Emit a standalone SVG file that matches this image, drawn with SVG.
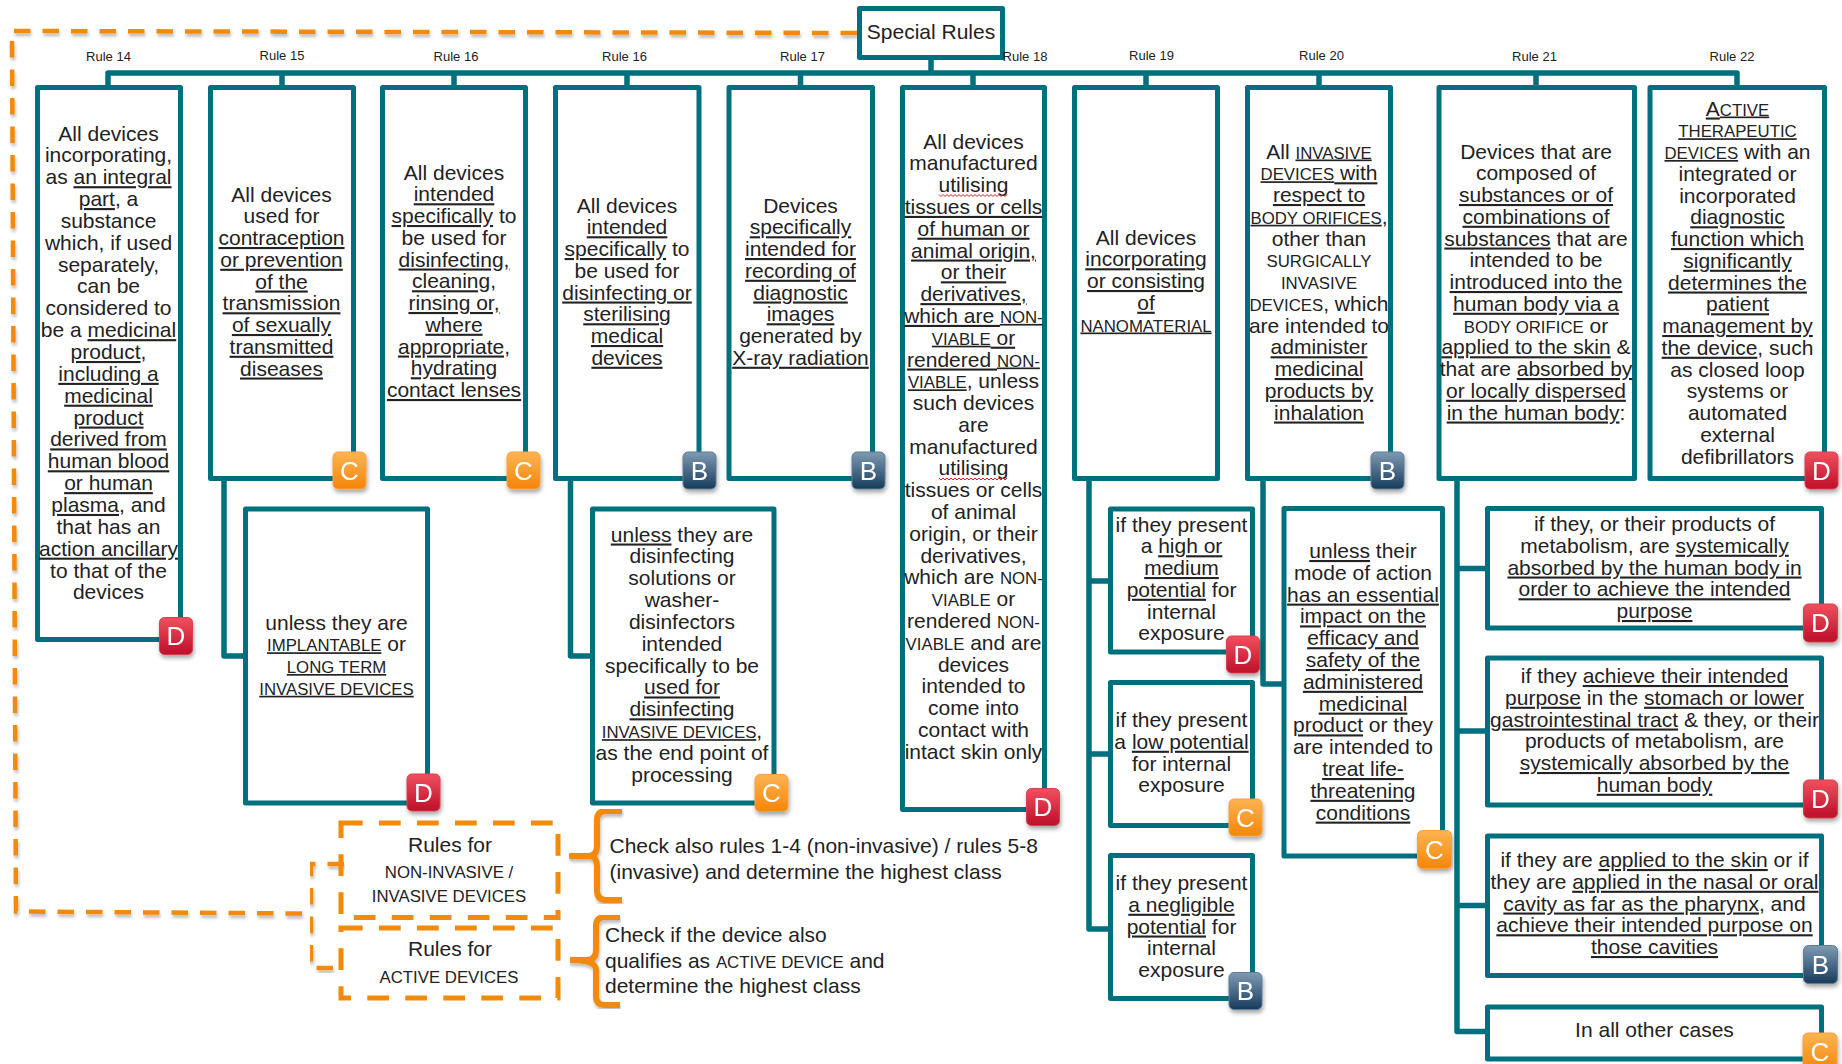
<svg xmlns="http://www.w3.org/2000/svg" width="1842" height="1064" viewBox="0 0 1842 1064">
<style>
text{font-family:"Liberation Sans",Arial,sans-serif;fill:#222}
.t{font-size:21px;text-anchor:middle}
.l{font-size:21px}
.r{font-size:13px;text-anchor:middle}
.s{font-size:16.8px}
.u{text-decoration:underline}
.w{fill:none;stroke:#d22;stroke-width:1}
.box{fill:#fff;stroke:#00707f;stroke-width:5;stroke-linejoin:round}
.bus{fill:none;stroke:#00707f;stroke-width:5.500;stroke-linejoin:round}
.dash{fill:none;stroke:#f28a0a;stroke-width:4.500;stroke-dasharray:16.500 12}
.dbox{fill:none;stroke:#f28a0a;stroke-width:5;stroke-dasharray:21.700 16.300}
.br{fill:none;stroke:#f28a0a;stroke-width:6;stroke-linejoin:round}
.b{filter:url(#sh)}
.bl{font-size:26px;text-anchor:middle;fill:#fff}
.bC{fill:url(#gC);stroke:#f6a040}
.bD{fill:url(#gD);stroke:#d8404f}
.bB{fill:url(#gB);stroke:#5d7d96}
</style>
<defs>
<linearGradient id="gC" x1="0" y1="0" x2="0" y2="1"><stop offset="0" stop-color="#fdb452"/><stop offset="1" stop-color="#f4860a"/></linearGradient>
<linearGradient id="gD" x1="0" y1="0" x2="0" y2="1"><stop offset="0" stop-color="#f0505f"/><stop offset="1" stop-color="#bd0f2a"/></linearGradient>
<linearGradient id="gB" x1="0" y1="0" x2="0" y2="1"><stop offset="0" stop-color="#7f9ab2"/><stop offset="1" stop-color="#173c5c"/></linearGradient>
<filter id="sh" x="-30%" y="-30%" width="170%" height="170%"><feDropShadow dx="1" dy="3" stdDeviation="2" flood-color="#000" flood-opacity=".35"/></filter>
<filter id="sl" x="-2%" y="-2%" width="104%" height="106%"><feDropShadow dx="1" dy="3" stdDeviation="1.600" flood-color="#000" flood-opacity=".25"/></filter>
<path id="zig" class="w" d="M0 0l2 2 2-2 2 2 2-2 2 2 2-2 2 2 2-2 2 2 2-2 2 2 2-2 2 2 2-2 2 2 2-2 2 2 2-2 2 2 2-2 2 2 2-2 2 2 2-2 2 2 2-2 2 2 2-2 2 2 2-2 2 2 2-2 2 2 2-2"/>
</defs>

<g id="connectors">
<path class="bus" d="M931 60V73M108 87V73H1737V87M282 73V87M454 73V87M627 73V87M800.500 73V87M973 73V87M1146 73V87M1319 73V87M1536 73V87"/>
<path class="bus" d="M224 481V656H243M570.500 481V656H590M1089 481V929H1108M1089 581H1108M1089 754H1108M1263 481V684H1282M1457 481V1031.500H1485M1457 568.500H1485M1457 731H1485M1457 905.500H1485"/>
<path class="dash" filter="url(#sl)" d="M857 33L12 31L16 911.500L302 913.500"/>
<path class="dash" filter="url(#sl)" d="M344 864H311V968H344"/>
<path class="br" filter="url(#sl)" d="M622 811H606Q597 811 597 820V846Q597 856 588 856H571Q588 856 590 856Q597 857 597 866V890Q597 900 606 900H622"/>
<path class="br" filter="url(#sl)" d="M620 917H605Q596 917 596 926V950Q596 960 587 960H571Q596 960 596 970V996Q596 1005 605 1005H620"/>
</g>

<g id="root"><rect class="box" x="859.500" y="8.500" width="143" height="49"/><text class="t" x="931" y="39">Special Rules</text></g>

<g id="rule14-label"><text class="r" x="108.500" y="60.500">Rule 14</text></g>
<g id="rule15-label"><text class="r" x="282" y="59.500">Rule 15</text></g>
<g id="rule16-label"><text class="r" x="456" y="60.500">Rule 16</text></g>
<g id="rule16b-label"><text class="r" x="624.500" y="60.500">Rule 16</text></g>
<g id="rule17-label"><text class="r" x="802.500" y="60.500">Rule 17</text></g>
<g id="rule18-label"><text class="r" x="1025" y="60.500">Rule 18</text></g>
<g id="rule19-label"><text class="r" x="1151.500" y="59.500">Rule 19</text></g>
<g id="rule20-label"><text class="r" x="1321.500" y="59.500">Rule 20</text></g>
<g id="rule21-label"><text class="r" x="1534.500" y="60.500">Rule 21</text></g>
<g id="rule22-label"><text class="r" x="1732" y="60.500">Rule 22</text></g>

<g id="rule14">
<rect class="box" x="37.500" y="87.500" width="143" height="552"/>
<text class="t" y="140.500"><tspan x="108.500">All devices</tspan><tspan x="108.500" dy="21.85">incorporating,</tspan><tspan x="108.500" dy="21.85">as <tspan class="u">an integral</tspan></tspan><tspan x="108.500" dy="21.85"><tspan class="u">part</tspan>, a</tspan><tspan x="108.500" dy="21.85">substance</tspan><tspan x="108.500" dy="21.85">which, if used</tspan><tspan x="108.500" dy="21.85">separately,</tspan><tspan x="108.500" dy="21.85">can be</tspan><tspan x="108.500" dy="21.85">considered to</tspan><tspan x="108.500" dy="21.85">be a <tspan class="u">medicinal</tspan></tspan><tspan x="108.500" dy="21.85"><tspan class="u">product</tspan>,</tspan><tspan x="108.500" dy="21.85" class="u">including a</tspan><tspan x="108.500" dy="21.85" class="u">medicinal</tspan><tspan x="108.500" dy="21.85" class="u">product</tspan><tspan x="108.500" dy="21.85" class="u">derived from</tspan><tspan x="108.500" dy="21.85" class="u">human blood</tspan><tspan x="108.500" dy="21.85" class="u">or human</tspan><tspan x="108.500" dy="21.85"><tspan class="u">plasma</tspan>, and</tspan><tspan x="108.500" dy="21.85">that has an</tspan><tspan x="108.500" dy="21.85" class="u">action ancillary</tspan><tspan x="108.500" dy="21.85">to that of the</tspan><tspan x="108.500" dy="21.85">devices</tspan></text>
<g class="b"><rect class="bD" x="159.500" y="617.500" width="33" height="37" rx="5"/><text class="bl" x="176" y="645">D</text></g>
</g>

<g id="rule15">
<rect class="box" x="210.500" y="87.500" width="143" height="391"/>
<text class="t" y="201.500"><tspan x="281.500">All devices</tspan><tspan x="281.500" dy="21.75">used for</tspan><tspan x="281.500" dy="21.75" class="u">contraception</tspan><tspan x="281.500" dy="21.75" class="u">or prevention</tspan><tspan x="281.500" dy="21.75" class="u">of the</tspan><tspan x="281.500" dy="21.75" class="u">transmission</tspan><tspan x="281.500" dy="21.75" class="u">of sexually</tspan><tspan x="281.500" dy="21.75" class="u">transmitted</tspan><tspan x="281.500" dy="21.75" class="u">diseases</tspan></text>
<g class="b"><rect class="bC" x="333" y="452" width="33" height="37" rx="5"/><text class="bl" x="349.500" y="479.500">C</text></g>
</g>

<g id="rule16">
<rect class="box" x="382.500" y="87.500" width="143" height="391"/>
<text class="t" y="179.500"><tspan x="454">All devices</tspan><tspan x="454" dy="21.75" class="u">intended</tspan><tspan x="454" dy="21.75"><tspan class="u">specifically</tspan> to</tspan><tspan x="454" dy="21.75">be used for</tspan><tspan x="454" dy="21.75" class="u">disinfecting,</tspan><tspan x="454" dy="21.75" class="u">cleaning,</tspan><tspan x="454" dy="21.75" class="u">rinsing or,</tspan><tspan x="454" dy="21.75" class="u">where</tspan><tspan x="454" dy="21.75" class="u">appropriate,</tspan><tspan x="454" dy="21.75" class="u">hydrating</tspan><tspan x="454" dy="21.75" class="u">contact lenses</tspan></text>
<g class="b"><rect class="bC" x="507" y="452" width="33" height="37" rx="5"/><text class="bl" x="523.500" y="479.500">C</text></g>
</g>

<g id="rule16b">
<rect class="box" x="555.500" y="87.500" width="143.500" height="391"/>
<text class="t" y="212.500"><tspan x="627">All devices</tspan><tspan x="627" dy="21.75" class="u">intended</tspan><tspan x="627" dy="21.75"><tspan class="u">specifically</tspan> to</tspan><tspan x="627" dy="21.75">be used for</tspan><tspan x="627" dy="21.75" class="u">disinfecting or</tspan><tspan x="627" dy="21.75" class="u">sterilising</tspan><tspan x="627" dy="21.75" class="u">medical</tspan><tspan x="627" dy="21.75" class="u">devices</tspan></text>
<g class="b"><rect class="bB" x="683" y="452" width="33" height="37" rx="5"/><text class="bl" x="699.500" y="479.500">B</text></g>
</g>

<g id="rule17">
<rect class="box" x="729" y="87.500" width="143.500" height="391"/>
<text class="t" y="212.500"><tspan x="800.500">Devices</tspan><tspan x="800.500" dy="21.75" class="u">specifically</tspan><tspan x="800.500" dy="21.75" class="u">intended for</tspan><tspan x="800.500" dy="21.75" class="u">recording of</tspan><tspan x="800.500" dy="21.75" class="u">diagnostic</tspan><tspan x="800.500" dy="21.75" class="u">images</tspan><tspan x="800.500" dy="21.75">generated by</tspan><tspan x="800.500" dy="21.75" class="u">X-ray radiation</tspan></text>
<g class="b"><rect class="bB" x="852" y="452" width="33" height="37" rx="5"/><text class="bl" x="868.500" y="479.500">B</text></g>
</g>

<g id="rule18">
<rect class="box" x="902.500" y="87.500" width="142" height="722"/>
<text class="t" y="148.500"><tspan x="973.500">All devices</tspan><tspan x="973.500" dy="21.8">manufactured</tspan><tspan x="973.500" dy="21.8">utilising</tspan><tspan x="973.500" dy="21.8" class="u">tissues or cells</tspan><tspan x="973.500" dy="21.8" class="u">of human or</tspan><tspan x="973.500" dy="21.8" class="u">animal origin,</tspan><tspan x="973.500" dy="21.8" class="u">or their</tspan><tspan x="973.500" dy="21.8" class="u">derivatives,</tspan><tspan x="973.500" dy="21.8" class="u">which are <tspan class="s">NON-</tspan></tspan><tspan x="973.500" dy="21.8" class="u"><tspan class="s">VIABLE</tspan> or</tspan><tspan x="973.500" dy="21.8" class="u">rendered <tspan class="s">NON-</tspan></tspan><tspan x="973.500" dy="21.8"><tspan class="u s">VIABLE</tspan>, unless</tspan><tspan x="973.500" dy="21.8">such devices</tspan><tspan x="973.500" dy="21.8">are</tspan><tspan x="973.500" dy="21.8">manufactured</tspan><tspan x="973.500" dy="21.8">utilising</tspan><tspan x="973.500" dy="21.8">tissues or cells</tspan><tspan x="973.500" dy="21.8">of animal</tspan><tspan x="973.500" dy="21.8">origin, or their</tspan><tspan x="973.500" dy="21.8">derivatives,</tspan><tspan x="973.500" dy="21.8">which are <tspan class="s">NON-</tspan></tspan><tspan x="973.500" dy="21.8"><tspan class="s">VIABLE</tspan> or</tspan><tspan x="973.500" dy="21.8">rendered <tspan class="s">NON-</tspan></tspan><tspan x="973.500" dy="21.8"><tspan class="s">VIABLE</tspan> and are</tspan><tspan x="973.500" dy="21.8">devices</tspan><tspan x="973.500" dy="21.8">intended to</tspan><tspan x="973.500" dy="21.8">come into</tspan><tspan x="973.500" dy="21.8">contact with</tspan><tspan x="973.500" dy="21.8">intact skin only</tspan></text>
<use href="#zig" x="939" y="194.500"/>
<use href="#zig" x="939" y="478"/>
<g class="b"><rect class="bD" x="1026.500" y="788.500" width="33" height="37" rx="5"/><text class="bl" x="1043" y="816">D</text></g>
</g>

<g id="rule19">
<rect class="box" x="1074.500" y="87.500" width="143" height="391"/>
<text class="t" y="244.500"><tspan x="1146">All devices</tspan><tspan x="1146" dy="21.75" class="u">incorporating</tspan><tspan x="1146" dy="21.75" class="u">or consisting</tspan><tspan x="1146" dy="21.75" class="u">of</tspan><tspan x="1146" dy="21.75" class="u s">NANOMATERIAL</tspan></text>
</g>

<g id="rule20">
<rect class="box" x="1247.500" y="87.500" width="143" height="391"/>
<text class="t" y="158.500"><tspan x="1319">All <tspan class="u s">INVASIVE</tspan></tspan><tspan x="1319" dy="21.75" class="u"><tspan class="s">DEVICES</tspan> with</tspan><tspan x="1319" dy="21.75" class="u">respect to</tspan><tspan x="1319" dy="21.75"><tspan class="u s">BODY ORIFICES</tspan>,</tspan><tspan x="1319" dy="21.75">other than</tspan><tspan x="1319" dy="21.75" class="s">SURGICALLY</tspan><tspan x="1319" dy="21.75" class="s">INVASIVE</tspan><tspan x="1319" dy="21.75"><tspan class="s">DEVICES</tspan>, which</tspan><tspan x="1319" dy="21.75">are intended to</tspan><tspan x="1319" dy="21.75" class="u">administer</tspan><tspan x="1319" dy="21.75" class="u">medicinal</tspan><tspan x="1319" dy="21.75" class="u">products by</tspan><tspan x="1319" dy="21.75" class="u">inhalation</tspan></text>
<g class="b"><rect class="bB" x="1371" y="452" width="33" height="37" rx="5"/><text class="bl" x="1387.500" y="479.500">B</text></g>
</g>

<g id="rule21">
<rect class="box" x="1439" y="87.500" width="195.500" height="391"/>
<text class="t" y="158.500"><tspan x="1536">Devices that are</tspan><tspan x="1536" dy="21.75">composed of</tspan><tspan x="1536" dy="21.75" class="u">substances or of</tspan><tspan x="1536" dy="21.75" class="u">combinations of</tspan><tspan x="1536" dy="21.75"><tspan class="u">substances</tspan> that are</tspan><tspan x="1536" dy="21.75">intended to be</tspan><tspan x="1536" dy="21.75" class="u">introduced into the</tspan><tspan x="1536" dy="21.75" class="u">human body via a</tspan><tspan x="1536" dy="21.75"><tspan class="s">BODY ORIFICE</tspan> or</tspan><tspan x="1536" dy="21.75"><tspan class="u">applied to the skin</tspan> &amp;</tspan><tspan x="1536" dy="21.75">that are <tspan class="u">absorbed by</tspan></tspan><tspan x="1536" dy="21.75" class="u">or locally dispersed</tspan><tspan x="1536" dy="21.75"><tspan class="u">in the human body</tspan>:</tspan></text>
</g>

<g id="rule22">
<rect class="box" x="1650" y="87.500" width="174.500" height="391"/>
<text class="t" y="115.500"><tspan x="1737.500" class="u">A<tspan class="s">CTIVE</tspan></tspan><tspan x="1737.500" dy="21.75" class="u s">THERAPEUTIC</tspan><tspan x="1737.500" dy="21.75"><tspan class="u s">DEVICES</tspan> with an</tspan><tspan x="1737.500" dy="21.75">integrated or</tspan><tspan x="1737.500" dy="21.75">incorporated</tspan><tspan x="1737.500" dy="21.75" class="u">diagnostic</tspan><tspan x="1737.500" dy="21.75" class="u">function which</tspan><tspan x="1737.500" dy="21.75" class="u">significantly</tspan><tspan x="1737.500" dy="21.75" class="u">determines the</tspan><tspan x="1737.500" dy="21.75" class="u">patient</tspan><tspan x="1737.500" dy="21.75" class="u">management by</tspan><tspan x="1737.500" dy="21.75"><tspan class="u">the device</tspan>, such</tspan><tspan x="1737.500" dy="21.75">as closed loop</tspan><tspan x="1737.500" dy="21.75">systems or</tspan><tspan x="1737.500" dy="21.75">automated</tspan><tspan x="1737.500" dy="21.75">external</tspan><tspan x="1737.500" dy="21.75">defibrillators</tspan></text>
<g class="b"><rect class="bD" x="1805" y="452" width="33" height="37" rx="5"/><text class="bl" x="1821.500" y="479.500">D</text></g>
</g>

<g id="rule15-sub">
<rect class="box" x="245.500" y="509" width="182" height="294"/>
<text class="t" y="629.500"><tspan x="336.500">unless they are</tspan><tspan x="336.500" dy="21.75"><tspan class="u s">IMPLANTABLE</tspan> or</tspan><tspan x="336.500" dy="21.75" class="u s">LONG TERM</tspan><tspan x="336.500" dy="21.75" class="u s">INVASIVE DEVICES</tspan></text>
<g class="b"><rect class="bD" x="407" y="774" width="33" height="37" rx="5"/><text class="bl" x="423.500" y="801.500">D</text></g>
</g>

<g id="rule16-sub">
<rect class="box" x="592.500" y="509" width="181.500" height="294"/>
<text class="t" y="541.500"><tspan x="682"><tspan class="u">unless</tspan> they are</tspan><tspan x="682" dy="21.85">disinfecting</tspan><tspan x="682" dy="21.85">solutions or</tspan><tspan x="682" dy="21.85">washer-</tspan><tspan x="682" dy="21.85">disinfectors</tspan><tspan x="682" dy="21.85">intended</tspan><tspan x="682" dy="21.85">specifically to be</tspan><tspan x="682" dy="21.85" class="u">used for</tspan><tspan x="682" dy="21.85" class="u">disinfecting</tspan><tspan x="682" dy="21.85"><tspan class="u s">INVASIVE DEVICES</tspan>,</tspan><tspan x="682" dy="21.85">as the end point of</tspan><tspan x="682" dy="21.85">processing</tspan></text>
<g class="b"><rect class="bC" x="755" y="774.500" width="33" height="37" rx="5"/><text class="bl" x="771.500" y="802">C</text></g>
</g>

<g id="rule19-a">
<rect class="box" x="1110.500" y="509" width="142" height="143"/>
<text class="t" y="531.500"><tspan x="1181.500">if they present</tspan><tspan x="1181.500" dy="21.75">a <tspan class="u">high or</tspan></tspan><tspan x="1181.500" dy="21.75" class="u">medium</tspan><tspan x="1181.500" dy="21.75"><tspan class="u">potential</tspan> for</tspan><tspan x="1181.500" dy="21.75">internal</tspan><tspan x="1181.500" dy="21.75">exposure</tspan></text>
<g class="b"><rect class="bD" x="1226.500" y="636" width="33" height="37" rx="5"/><text class="bl" x="1243" y="663.500">D</text></g>
</g>
<g id="rule19-b">
<rect class="box" x="1110.500" y="682.500" width="142" height="143"/>
<text class="t" y="727"><tspan x="1181.500">if they present</tspan><tspan x="1181.500" dy="21.75">a <tspan class="u">low potential</tspan></tspan><tspan x="1181.500" dy="21.75">for internal</tspan><tspan x="1181.500" dy="21.75">exposure</tspan></text>
<g class="b"><rect class="bC" x="1229" y="799" width="33" height="37" rx="5"/><text class="bl" x="1245.500" y="826.500">C</text></g>
</g>
<g id="rule19-c">
<rect class="box" x="1110.500" y="855.500" width="142" height="143"/>
<text class="t" y="890"><tspan x="1181.500">if they present</tspan><tspan x="1181.500" dy="21.75" class="u">a negligible</tspan><tspan x="1181.500" dy="21.75"><tspan class="u">potential</tspan> for</tspan><tspan x="1181.500" dy="21.75">internal</tspan><tspan x="1181.500" dy="21.75">exposure</tspan></text>
<g class="b"><rect class="bB" x="1229" y="972.500" width="33" height="37" rx="5"/><text class="bl" x="1245.500" y="1000">B</text></g>
</g>

<g id="rule20-sub">
<rect class="box" x="1284" y="508.500" width="158.500" height="347.500"/>
<text class="t" y="558"><tspan x="1363"><tspan class="u">unless</tspan> their</tspan><tspan x="1363" dy="21.8">mode of action</tspan><tspan x="1363" dy="21.8" class="u">has an essential</tspan><tspan x="1363" dy="21.8" class="u">impact on the</tspan><tspan x="1363" dy="21.8" class="u">efficacy and</tspan><tspan x="1363" dy="21.8" class="u">safety of the</tspan><tspan x="1363" dy="21.8" class="u">administered</tspan><tspan x="1363" dy="21.8" class="u">medicinal</tspan><tspan x="1363" dy="21.8"><tspan class="u">product</tspan> or they</tspan><tspan x="1363" dy="21.8">are intended to</tspan><tspan x="1363" dy="21.8" class="u">treat life-</tspan><tspan x="1363" dy="21.8" class="u">threatening</tspan><tspan x="1363" dy="21.8" class="u">conditions</tspan></text>
<g class="b"><rect class="bC" x="1417.500" y="830.500" width="34" height="38" rx="5"/><text class="bl" x="1434.500" y="858.500">C</text></g>
</g>

<g id="rule21-a">
<rect class="box" x="1487.500" y="508.500" width="334" height="119.500"/>
<text class="t" y="531"><tspan x="1654.500">if they, or their products of</tspan><tspan x="1654.500" dy="21.75">metabolism, are <tspan class="u">systemically</tspan></tspan><tspan x="1654.500" dy="21.75" class="u">absorbed by the human body in</tspan><tspan x="1654.500" dy="21.75" class="u">order to achieve the intended</tspan><tspan x="1654.500" dy="21.75" class="u">purpose</tspan></text>
<g class="b"><rect class="bD" x="1803.500" y="604" width="34" height="38" rx="5"/><text class="bl" x="1820.500" y="632">D</text></g>
</g>
<g id="rule21-b">
<rect class="box" x="1487.500" y="658" width="334" height="147"/>
<text class="t" y="683"><tspan x="1654.500">if they <tspan class="u">achieve their intended</tspan></tspan><tspan x="1654.500" dy="21.75"><tspan class="u">purpose</tspan> in the <tspan class="u">stomach or lower</tspan></tspan><tspan x="1654.500" dy="21.75"><tspan class="u">gastrointestinal tract</tspan> &amp; they, or their</tspan><tspan x="1654.500" dy="21.75">products of metabolism, are</tspan><tspan x="1654.500" dy="21.75" class="u">systemically absorbed by the</tspan><tspan x="1654.500" dy="21.75" class="u">human body</tspan></text>
<g class="b"><rect class="bD" x="1803.500" y="780" width="34" height="38" rx="5"/><text class="bl" x="1820.500" y="808">D</text></g>
</g>
<g id="rule21-c">
<rect class="box" x="1487.500" y="836" width="334" height="139.500"/>
<text class="t" y="867"><tspan x="1654.500">if they are <tspan class="u">applied to the skin</tspan> or if</tspan><tspan x="1654.500" dy="21.75">they are <tspan class="u">applied in the nasal or oral</tspan></tspan><tspan x="1654.500" dy="21.75"><tspan class="u">cavity as far as the pharynx</tspan>, and</tspan><tspan x="1654.500" dy="21.75" class="u">achieve their intended purpose on</tspan><tspan x="1654.500" dy="21.75" class="u">those cavities</tspan></text>
<g class="b"><rect class="bB" x="1803.500" y="945.500" width="34" height="38" rx="5"/><text class="bl" x="1820.500" y="973.500">B</text></g>
</g>
<g id="rule21-d">
<rect class="box" x="1487.500" y="1007" width="334" height="52"/>
<text class="t" x="1654.500" y="1036.500">In all other cases</text>
<g class="b"><rect class="bC" x="1803" y="1033" width="34" height="38" rx="5"/><text class="bl" x="1820" y="1061">C</text></g>
</g>

<g id="rules-noninvasive">
<rect class="dbox" x="341" y="823" width="217" height="94.500"/>
<text class="t" x="450" y="851.500">Rules for</text>
<text class="t s" x="449" y="877.500">NON-INVASIVE /</text>
<text class="t s" x="449" y="902">INVASIVE DEVICES</text>
</g>
<g id="rules-active">
<rect class="dbox" x="341" y="928" width="217" height="70"/>
<text class="t" x="450" y="956">Rules for</text>
<text class="t s" x="449" y="983">ACTIVE DEVICES</text>
</g>
<g id="note-noninvasive">
<text class="l" x="609.500" y="852.500">Check also rules 1-4 (non-invasive) / rules 5-8</text>
<text class="l" x="609.500" y="878.500">(invasive) and determine the highest class</text>
</g>
<g id="note-active">
<text class="l" x="605" y="941.500">Check if the device also</text>
<text class="l" x="605" y="968">qualifies as <tspan class="s">ACTIVE DEVICE</tspan> and</text>
<text class="l" x="605" y="992.500">determine the highest class</text>
</g>
</svg>
